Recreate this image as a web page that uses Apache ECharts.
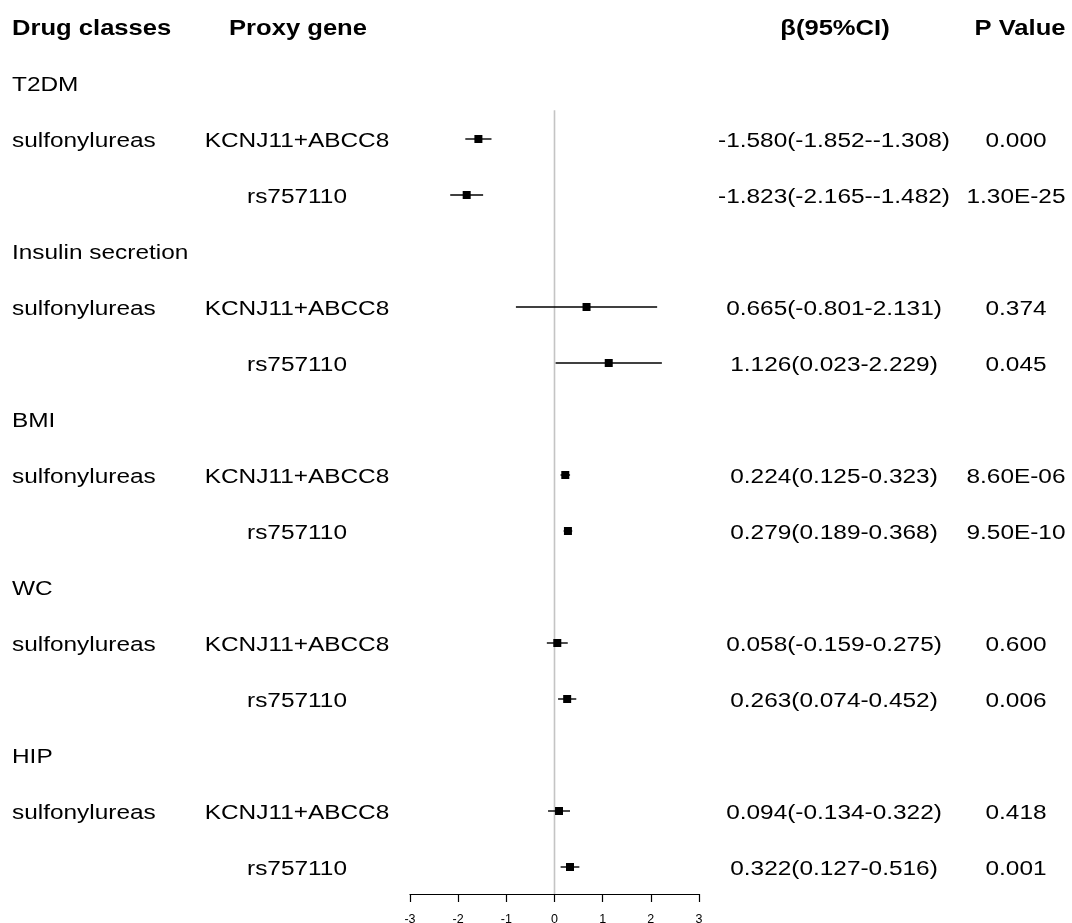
<!DOCTYPE html>
<html>
<head>
<meta charset="utf-8">
<script src="https://cdn.jsdelivr.net/npm/echarts@6/dist/echarts.min.js"></script>
<style>
html,body{margin:0;padding:0;background:#fff;}
#chart{width:1072px;height:923px;}
</style>
</head>
<body>
<div id="chart"></div>
<script>
// ---- data ----
const headers = ['Drug classes', 'Proxy gene', 'β(95%CI)', 'P Value'];
const groups = ['T2DM', 'Insulin secretion', 'BMI', 'WC', 'HIP'];
const drugClass = 'sulfonylureas';
const genes = ['KCNJ11+ABCC8', 'rs757110'];
const beta  = [-1.580, -1.823, 0.665, 1.126, 0.224, 0.279, 0.058, 0.263, 0.094, 0.322];
const lower = [-1.852, -2.165, -0.801, 0.023, 0.125, 0.189, -0.159, 0.074, -0.134, 0.127];
const upper = [-1.308, -1.482, 2.131, 2.229, 0.323, 0.368, 0.275, 0.452, 0.322, 0.516];
const ciText = ['-1.580(-1.852--1.308)', '-1.823(-2.165--1.482)', '0.665(-0.801-2.131)', '1.126(0.023-2.229)',
  '0.224(0.125-0.323)', '0.279(0.189-0.368)', '0.058(-0.159-0.275)', '0.263(0.074-0.452)',
  '0.094(-0.134-0.322)', '0.322(0.127-0.516)'];
const pText = ['0.000', '1.30E-25', '0.374', '0.045', '8.60E-06', '9.50E-10', '0.600', '0.006', '0.418', '0.001'];
const xTicks = [-3, -2, -1, 0, 1, 2, 3];

// ---- build rows ----
// row 0: header; group g: row 1+3g; data rows 2+3g, 3+3g
const textItems = [];
headers.forEach((h, c) => textItems.push({ row: 0, col: c, text: h, bold: true }));
const forestData = [];
groups.forEach((g, gi) => {
  const gr = 1 + 3 * gi;
  textItems.push({ row: gr, col: 0, text: g, bold: false });
  genes.forEach((gene, k) => {
    const i = gi * 2 + k;
    const r = gr + 1 + k;
    if (k === 0) textItems.push({ row: r, col: 0, text: drugClass, bold: false });
    textItems.push({ row: r, col: 1, text: gene, bold: false });
    textItems.push({ row: r, col: 2, text: ciText[i], bold: false });
    textItems.push({ row: r, col: 3, text: pText[i], bold: false });
    forestData.push([beta[i], r, lower[i], upper[i]]);
  });
});

// layout (pixels)
const colX = [12, 297, 834, 1016];
const colAlign = ['left', 'center', 'center', 'center'];
const headerX = [12, 298, 835, 1020];
const SX = 1.19;
const FONT = '"Liberation Sans", Arial, sans-serif';
const yMax = 866 / 56;

const chart = echarts.init(document.getElementById('chart'), null, { renderer: 'canvas' });
chart.setOption({
  animation: false,
  backgroundColor: '#ffffff',
  grid: { left: 410, right: 373, top: 28, bottom: 29, containLabel: false, outerBoundsMode: 'none' },
  xAxis: {
    type: 'value', min: -3, max: 3, interval: 1,
    axisLine: { show: true, onZero: false, lineStyle: { color: '#000', width: 1.2 } },
    axisTick: { show: true, length: 8, lineStyle: { color: '#000', width: 1.2 } },
    axisLabel: { color: '#000', fontSize: 12.5, fontFamily: FONT, margin: 19,
      formatter: v => String(xTicks[xTicks.indexOf(v)]) },
    splitLine: { show: false }
  },
  yAxis: {
    type: 'value', inverse: true, min: 0, max: yMax,
    show: false, splitLine: { show: false }
  },
  series: [
    {
      type: 'line', silent: true, symbol: 'none', z: 1,
      data: [[0, 1.47], [0, yMax]],
      lineStyle: { color: '#c4c4c4', width: 1.6 }
    },
    {
      type: 'custom', z: 3, clip: false, silent: true,
      data: forestData,
      encode: { x: 0, y: 1 },
      renderItem: function (params, api) {
        const r = api.value(1);
        const c = api.coord([api.value(0), r]);
        const l = api.coord([api.value(2), r]);
        const h = api.coord([api.value(3), r]);
        const s = 8;
        return {
          type: 'group',
          children: [
            { type: 'line', shape: { x1: l[0], y1: c[1] - 1, x2: h[0], y2: c[1] - 1 },
              style: { stroke: '#000', lineWidth: 1.4 } },
            { type: 'rect', shape: { x: c[0] - s / 2, y: c[1] - 1 - s / 2, width: s, height: s },
              style: { fill: '#000' } }
          ]
        };
      }
    },
    {
      type: 'custom', z: 4, clip: false, silent: true,
      data: textItems.map((t, i) => [0, t.row, i]),
      encode: { x: 0, y: 1 },
      renderItem: function (params, api) {
        const t = textItems[api.value(2)];
        const y = api.coord([0, t.row])[1] + 1;
        const x = t.row === 0 ? headerX[t.col] : colX[t.col];
        return {
          type: 'text',
          x: x, y: y,
          scaleX: SX, scaleY: 1,
          style: {
            text: t.text,
            x: 0, y: 0,
            align: colAlign[t.col],
            verticalAlign: 'middle',
            fill: '#000',
            font: (t.bold ? 'bold 21.5px ' : '20.5px ') + FONT
          }
        };
      }
    }
  ]
});
</script>
</body>
</html>
